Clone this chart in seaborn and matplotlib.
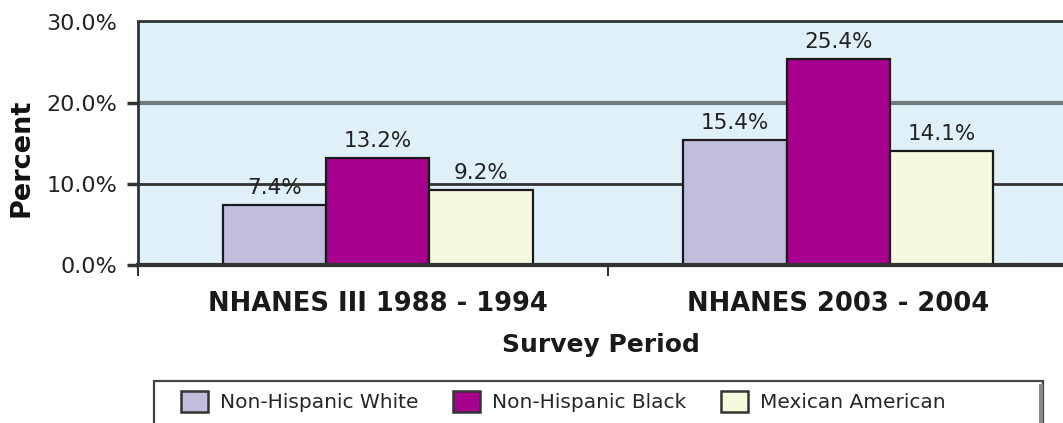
import pandas as pd
import matplotlib.pyplot as plt
import seaborn as sns
from matplotlib.patches import Rectangle
from matplotlib.ticker import PercentFormatter

periods = ["NHANES III 1988 - 1994", "NHANES 2003 - 2004"]
groups = ["Non-Hispanic White", "Non-Hispanic Black", "Mexican American"]
white = [7.4, 15.4]
black = [13.2, 25.4]
mexican = [9.2, 14.1]
colors = ["#C2BDDD", "#A8008F", "#F7F9DF"]

W, H = 1063, 423


def build_df():
    rows = []
    for i, p in enumerate(periods):
        for g, vals in zip(groups, [white, black, mexican]):
            rows.append({"period": p, "group": g, "value": vals[i]})
    return pd.DataFrame(rows)


def main():
    df = build_df()
    sns.set_style("white")
    plt.rcParams["font.family"] = ["DejaVu Sans"]

    fig = plt.figure(figsize=(W / 100, H / 100), dpi=100)
    ax = fig.add_axes([138 / W, 1 - 265 / H, (W - 138) / W, (265 - 21.5) / H])
    ax.set_facecolor("#E0F0F8")

    sns.barplot(data=df, x="period", y="value", hue="group", hue_order=groups,
                palette=colors, width=0.673, edgecolor="#1a1a1a", linewidth=1.6,
                saturation=1, ax=ax, legend=True)

    # gridlines: 10% dark, 20% grey
    ax.axhline(10, color="#333333", linewidth=2, zorder=0.5)
    ax.axhline(20, color="#6F7B7B", linewidth=3, zorder=0.5)

    for cont in ax.containers:
        ax.bar_label(cont, fmt="%.1f%%", padding=5, fontsize=15.5, color="#222222")

    ax.set_ylim(0, 30)
    ax.set_xlim(-0.5205, 1.488)
    ax.set_yticks([0, 10, 20, 30])
    ax.yaxis.set_major_formatter(PercentFormatter(decimals=1))
    ax.tick_params(axis="y", labelsize=16, length=8, width=2.5, color="#333333",
                   left=True, pad=7, labelcolor="#222222")
    # tick marks: none at 30%, grey at 20%
    yticks = ax.yaxis.get_major_ticks()
    yticks[3].tick1line.set_visible(False)
    yticks[2].tick1line.set_color("#6F7B7B")
    ax.tick_params(axis="x", labelsize=18.5, length=0, pad=19, labelcolor="#1a1a1a")
    for lbl in ax.get_xticklabels():
        lbl.set_fontweight("bold")
    ax.set_xticks([ax.get_xlim()[0], 0.5], minor=True)
    ax.tick_params(axis="x", which="minor", length=8, width=1.5, color="#333333", bottom=True)

    ax.set_xlabel("Survey Period", fontsize=18, fontweight="bold", labelpad=11, color="#1a1a1a")
    ax.set_ylabel("Percent", fontsize=19.5, fontweight="bold", color="#111111")
    ax.yaxis.set_label_coords(-0.112, 0.44)

    for side in ["left", "top", "bottom"]:
        ax.spines[side].set_color("#333333")
        ax.spines[side].set_linewidth(2)
    ax.spines["bottom"].set_linewidth(3)
    ax.spines["right"].set_visible(False)

    handles, labels = ax.get_legend_handles_labels()
    ax.legend_.remove()

    # legend frame
    fig.patches.append(Rectangle((154 / W, -0.05), (1043 - 154) / W, 0.05 + (423 - 381.5) / H,
                                 transform=fig.transFigure, facecolor="white",
                                 edgecolor="#444444", linewidth=1.6, zorder=1))
    fig.patches.append(Rectangle((1039 / W, -0.05), 4 / W, 0.05 + (423 - 384) / H,
                                 transform=fig.transFigure, facecolor="#888888",
                                 edgecolor="none", zorder=1.5))
    leg = fig.legend(handles, labels, loc="upper left", bbox_to_anchor=(181 / W, 1 - 391 / H),
                     ncol=3, frameon=False, fontsize=14.5, borderpad=0, borderaxespad=0,
                     handlelength=1.35, handleheight=1.25, handletextpad=0.6,
                     columnspacing=1.7)
    for h in leg.legend_handles:
        h.set_edgecolor("#333333")
        h.set_linewidth(1.8)
    leg.set_zorder(2)

    fig.savefig("out.png", dpi=100)


if __name__ == '__main__':
    main()
